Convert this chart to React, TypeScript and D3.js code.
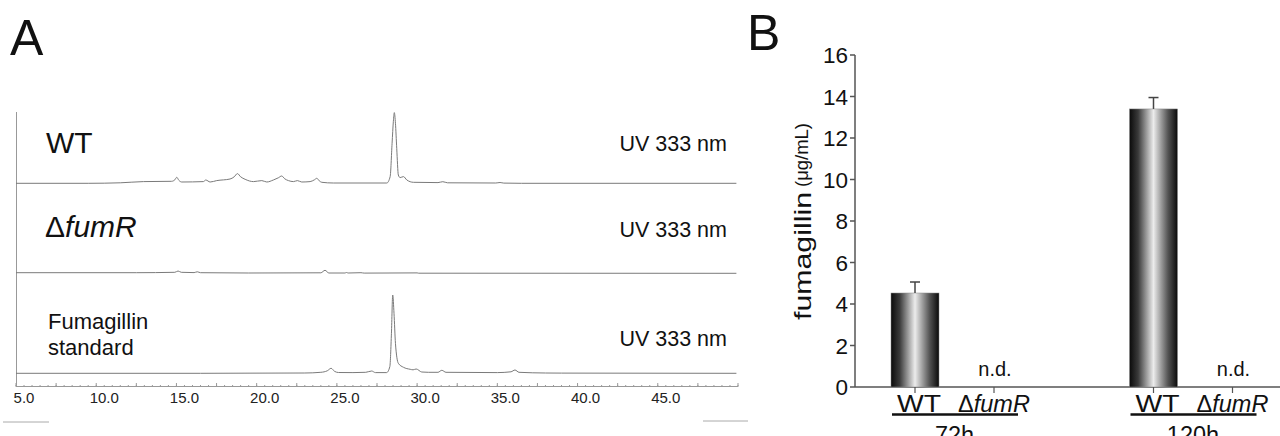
import React from "react";
import * as d3 from "d3";

// ---------- Panel A data: HPLC traces (retention time min, signal mAU) ----------
const traceWT: [number, number][] = [
  [4.5, 0], [9.0, 0], [11.0, 0.5], [12.44, 1.7], [14.2, 2], [14.4, 3.5], [14.52, 6], [14.65, 3], [14.83, 1.3],
  [16.18, 1.7], [16.33, 3.3], [16.6, 1.3], [17.01, 2.7], [17.84, 4.3], [18.1, 6.5], [18.3, 9.7], [18.5, 6.5],
  [18.78, 4], [19.3, 1.7], [19.82, 2.7], [20.13, 1.3], [20.54, 3.3], [20.85, 5.5], [21.06, 7.3], [21.25, 4.5],
  [21.48, 2.7], [21.79, 1.7], [22.04, 2.7], [22.31, 1.3], [22.83, 1.7], [23.1, 3.5], [23.25, 5], [23.4, 2.5],
  [23.56, 1], [24.28, 0.3], [27.61, 0.3], [27.82, 6.7], [27.94, 40], [28.02, 62], [28.08, 70.7], [28.15, 60],
  [28.23, 35], [28.33, 8.3], [28.44, 5.7], [28.65, 6.7], [28.86, 3.3], [29.27, 1], [30.8, 0.7], [31.1, 1.6],
  [31.4, 0.5], [34.4, 0.3], [34.67, 0.8], [34.9, 0.2], [36, 0], [49.4, 0],
];
const traceFumR: [number, number][] = [
  [4.5, 0.6], [12, 0.6], [14.4, 1], [14.6, 2.3], [14.8, 1], [15.6, 0.7], [15.8, 1.5], [16, 0.6], [19, 0.3],
  [23.5, 0.5], [23.76, 3], [24.0, 0.3], [25.0, 0.3], [25.1, 0.8], [25.2, 0.3], [26.0, 0.6], [26.2, 0.2],
  [29.5, 0.4], [29.6, 0.1], [49.4, 0],
];
const traceStd: [number, number][] = [
  [4.5, 0], [16, 0], [22.5, 0.3], [23.5, 1], [23.9, 2.5], [24.14, 5], [24.35, 2], [24.6, 0.8], [25.5, 0.7],
  [26.3, 1], [26.67, 2.3], [26.9, 0.7], [27.6, 0.7], [27.8, 6.7], [27.9, 40], [27.98, 78.3], [28.06, 60],
  [28.15, 30], [28.33, 10], [28.65, 6], [29.07, 4], [29.25, 3.5], [29.44, 4.3], [29.79, 1.3], [30.2, 1],
  [30.8, 1], [31.04, 3], [31.3, 1], [34.5, 0.7], [35.35, 1.5], [35.6, 3.3], [35.85, 1], [37.5, 0.3],
  [38.5, 0.2], [49.4, 0],
];
const xTickValues = [5, 10, 15, 20, 25, 30, 35, 40, 45];
const xTickLabels = ["5.0", "10.0", "15.0", "20.0", "25.0", "30.0", "35.0", "40.0", "45.0"];

// ---------- Panel B data ----------
const groups = ["72h", "120h"];
const strains = ["WT", "ΔfumR"];
const wtValues = [4.53, 13.4];
const wtErrors = [0.53, 0.55];
const mutValues: (number | null)[] = [null, null]; // n.d.
const yTicks = [0, 2, 4, 6, 8, 10, 12, 14, 16];

const FONT = "'Liberation Sans', Arial, Helvetica, sans-serif";

export default function App() {
  // Panel A scales
  const xA = d3.scaleLinear().domain([4.5, 49.5]).range([16, 738]);
  const hA = d3.scaleLinear().domain([0, 80]).range([0, 80]);
  const traces = [
    { data: traceWT, base: 183.3 },
    { data: traceFumR, base: 273.3 },
    { data: traceStd, base: 373.3 },
  ];
  const minor = d3.range(4.5, 49.51, 0.5);
  const major = d3.range(4.5, 49.51, 2.5);

  // Panel B scales
  const yB = d3.scaleLinear().domain([0, 16]).range([387, 55]);
  const gx = d3.scalePoint<string>().domain(groups).range([954.5, 1193]);
  const sx = d3.scalePoint<string>().domain(strains).range([-39.5, 39.5]);
  const barW = 48;

  return (
    <svg
      width={1280}
      height={436}
      style={{ display: "block", position: "absolute", left: 0, top: 0 }}
      fontFamily={FONT}
    >
      <defs>
        <linearGradient id="barGrad" x1="0" x2="1" y1="0" y2="0">
          <stop offset="0" stopColor="#0a0a0a" />
          <stop offset="0.18" stopColor="#3a3a3a" />
          <stop offset="0.5" stopColor="#ececec" />
          <stop offset="0.8" stopColor="#555" />
          <stop offset="1" stopColor="#0a0a0a" />
        </linearGradient>
      </defs>

      {/* ---------- Panel A ---------- */}
      <text x={10} y={55} fontSize={50} fill="#111">A</text>
      <line x1={16.5} x2={16.5} y1={112} y2={386.5} stroke="#999" strokeWidth={1} />
      <line x1={16} x2={738} y1={386.5} y2={386.5} stroke="#999" strokeWidth={1} />
      {minor.map((t, i) => (
        <line key={"mi" + i} x1={xA(t)} x2={xA(t)} y1={386.5} y2={385} stroke="#999" strokeWidth={1} />
      ))}
      {major.map((t, i) => (
        <line key={"ma" + i} x1={xA(t)} x2={xA(t)} y1={386.5} y2={383} stroke="#999" strokeWidth={1} />
      ))}
      {xTickValues.map((t, i) => (
        <text key={"xl" + i} x={xA(t)} y={403} fontSize={15} textAnchor="middle" fill="#222">
          {xTickLabels[i]}
        </text>
      ))}
      {traces.map((tr, i) => {
        const line = d3
          .line<[number, number]>()
          .x((d) => xA(d[0]))
          .y((d) => tr.base - hA(d[1]))
          .curve(d3.curveMonotoneX);
        return <path key={"tr" + i} d={line(tr.data) || ""} fill="none" stroke="#7a7a7a" strokeWidth={1} />;
      })}
      <text x={46} y={153} fontSize={30} fill="#111">WT</text>
      <text x={45} y={237} fontSize={30} fill="#111">
        Δ<tspan fontStyle="italic">fumR</tspan>
      </text>
      <text x={48} y={329} fontSize={22} fill="#111">Fumagillin</text>
      <text x={48} y={355} fontSize={22} fill="#111">standard</text>
      {[151, 237, 346].map((y, i) => (
        <text key={"uv" + i} x={727} y={y} fontSize={21.5} textAnchor="end" fill="#111">UV 333 nm</text>
      ))}
      <line x1={3} x2={49} y1={422} y2={422} stroke="#aaa" strokeWidth={1} />
      <line x1={703} x2={748} y1={421} y2={421} stroke="#aaa" strokeWidth={1} />

      {/* ---------- Panel B ---------- */}
      <text x={747} y={50} fontSize={50} fill="#111">B</text>
      <line x1={855} x2={855} y1={yB(16)} y2={yB(0)} stroke="#555" strokeWidth={1.5} />
      <line x1={855} x2={1280} y1={yB(0)} y2={yB(0)} stroke="#555" strokeWidth={1.5} />
      {yTicks.map((v) => (
        <g key={"yt" + v}>
          <line x1={850} x2={855} y1={yB(v)} y2={yB(v)} stroke="#555" strokeWidth={1.5} />
          <text x={848} y={yB(v)} dy="0.36em" fontSize={22.5} textAnchor="end" fill="#111">{v}</text>
        </g>
      ))}
      <text
        transform={`translate(811,256) rotate(-90)`}
        textAnchor="middle"
        fontSize={24}
        textLength={128}
        lengthAdjust="spacingAndGlyphs"
        fill="#111"
      >
        fumagillin
      </text>
      <text
        transform={`translate(808,155) rotate(-90)`}
        textAnchor="middle"
        fontSize={18}
        textLength={64}
        lengthAdjust="spacingAndGlyphs"
        fill="#111"
      >
        (μg/mL)
      </text>
      {groups.map((g, gi) => {
        const cx = gx(g)!;
        const wtX = cx + sx("WT")!;
        const muX = cx + sx("ΔfumR")!;
        const v = wtValues[gi];
        const e = wtErrors[gi];
        const mv = mutValues[gi];
        return (
          <g key={"g" + g}>
            <rect x={wtX - barW / 2} y={yB(v)} width={barW} height={yB(0) - yB(v)} fill="url(#barGrad)" stroke="#888" strokeWidth={0.5} />
            <line x1={wtX} x2={wtX} y1={yB(v)} y2={yB(v + e)} stroke="#444" strokeWidth={1.5} />
            <line x1={wtX - 5} x2={wtX + 5} y1={yB(v + e)} y2={yB(v + e)} stroke="#444" strokeWidth={1.5} />
            {mv === null && (
              <text x={muX + 1} y={376} fontSize={20} textAnchor="middle" fill="#111">n.d.</text>
            )}
            <line x1={wtX} x2={wtX} y1={387} y2={393} stroke="#555" strokeWidth={1.2} />
            <line x1={muX} x2={muX} y1={387} y2={393} stroke="#555" strokeWidth={1.2} />
            <text
              x={wtX - 18}
              y={412}
              fontSize={24}
              textLength={44}
              lengthAdjust="spacingAndGlyphs"
              fill="#111"
            >
              WT
            </text>
            <text x={muX} y={412} fontSize={23.5} textAnchor="middle" fill="#111">
              Δ<tspan fontStyle="italic">fumR</tspan>
            </text>
            <line x1={cx - 62.5} x2={cx + 63.5} y1={414.5} y2={414.5} stroke="#111" strokeWidth={2.5} />
            <text x={cx} y={443} fontSize={23.5} textAnchor="middle" fill="#111">{g}</text>
          </g>
        );
      })}
    </svg>
  );
}
